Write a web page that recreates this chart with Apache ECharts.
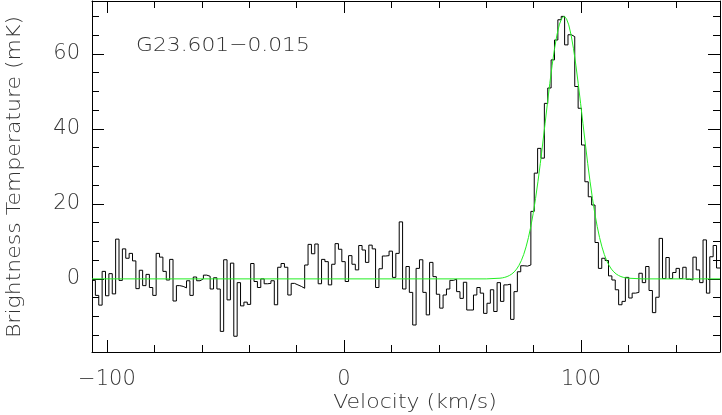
<!DOCTYPE html>
<html><head><meta charset="utf-8">
<script src="https://cdn.jsdelivr.net/npm/echarts@6/dist/echarts.min.js"></script>
<style>html,body{margin:0;padding:0;background:#fff}#c{width:722px;height:415px}</style>
</head><body><div id="c"></div>
<script>
// ---- data ----
const velocityStart = -106.3;   // left edge of first channel (km/s)
const channelWidth = 1.424;     // km/s
const xRange = [-106.3, 158.6];
const yRange = [-19.5, 74.1];
const brightness = [
  -0.4, -4.4, -7.0, 2.0, -4.5, 1.4, -4.0, 10.6, -0.4, 8.0, 5.5, 6.8, 4.8, -2.6, 2.3, -1.8, 1.2, -2.3, -4.4, 6.8,
  5.8, 2.0, -0.3, 5.2, -5.9, -1.8, -2.0, -2.4, -0.5, -4.4, 0.5, -0.5, 0.0, 1.0, 0.7, -2.7, 0.3,
  -2.7, -14.0, 5.1, -5.6, 4.2, -15.3, -1.0, -7.2, -6.2, -6.8, 4.1, -0.7, -2.3, 0.0, -1.3, -1.2, -0.5, -6.9, 3.1,
  4.1, 3.1, -4.3, -1.2, -1.6, -2.0, -2.5, 3.7, 9.2, 6.7, 9.3, -1.3, 5.2, 4.6, -1.6, 3.9, 9.4, 7.9, 4.6,
  -0.7, 6.2, 3.9, 2.4, 8.9, 7.7, 4.4, 9.0, 8.0, -2.3, 2.7, 6.1, 6.2, 7.4, 0.4, 6.8, 15.2, -2.7, 3.3, -3.6,
  -12.3, 2.8, 5.1, -3.6, -9.6, 4.4, 0.6, -4.1, -7.8, -4.3, -2.7, -0.4, -0.1, -3.4, -5.2, -0.9, -8.3,
  -8.3, -4.3, -2.3, -3.8, -9.2, -6.5, -2.9, -8.7, -1.0, -6.0, -1.6, -1.4, -10.8, -3.4, 1.9, 3.5, 3.4, 3.7,
  18.0, 28.2, 34.8, 32.2, 46.8, 50.9, 58.4, 63.7, 69.1, 70.0, 62.4, 65.1, 64.6, 51.3, 45.5, 35.7, 25.9, 21.9, 19.7,
  9.7, 2.8, 5.5, 4.9, 0.8, -0.3, -2.9, -6.9, -6.0, 0.4, -5.1, -3.8, -3.6, 1.5, -1.0, 3.3, -3.1, -9.0, -4.9, 10.8,
  0.1, 5.7, 0.1, 1.7, 2.8, 0.1, 3.1, -0.1, -0.3, 5.8, 2.4, -1.0, 10.4, -3.8, 5.9, 8.9, 2.9
];
const fitVelocity = [
  -106.3, 60, 65.8, 66.8, 67.8, 68.8, 69.8, 70.8, 71.8, 72.8, 73.8, 74.8, 75.8, 76.8, 77.8, 78.8, 79.8, 80.8,
  81.8, 82.8, 83.8, 84.8, 85.8, 86.8, 87.8, 88.8, 89.8, 90.8, 91.8, 92.8, 93.8, 94.8, 95.8, 96.8, 97.8, 98.8,
  99.8, 100.8, 101.8, 102.8, 103.8, 104.8, 105.8, 106.8, 107.8, 108.8, 109.8, 110.8, 111.8, 112.8, 113.8,
  114.8, 115.8, 116.8, 117.8, 118.8, 119.8, 126, 158.6
];
const fitBrightness = [
  0, 0, 0.18, 0.27, 0.41, 0.62, 0.91, 1.31, 1.87, 2.61, 3.60, 4.88, 6.51, 8.54, 11.02, 13.98, 17.45, 21.44,
  25.90, 30.77, 35.97, 41.37, 46.80, 52.07, 57.00, 61.38, 65.01, 67.74, 69.43, 70.00, 69.43, 67.74, 65.01, 61.38,
  57.00, 52.07, 46.80, 41.37, 35.97, 30.77, 25.90, 21.44, 17.45, 13.98, 11.02, 8.54, 6.51, 4.88, 3.60, 2.61,
  1.87, 1.31, 0.91, 0.62, 0.41, 0.27, 0.18, 0, 0
];
const sourceName = 'G23.601\u22120.015';
const xTitle = 'Velocity (km/s)';
const yTitle = 'Brightness Temperature (mK)';

// ---- build ----
const stepData = brightness.map((t, i) => [velocityStart + i * channelWidth, t]);
stepData.push([xRange[1], brightness[brightness.length - 1]]);
const fitData = fitVelocity.map((v, i) => [v, fitBrightness[i]]);

const FONT = 'DejaVu Sans';
const TXT = '#333';
const TFONT = '200 20px "DejaVu Sans"';
const minus = s => String(s).replace('-', '\u2212');
const line = { show: true, onZero: false, lineStyle: { color: '#000', width: 1 } };
const tick = (len) => ({ show: true, inside: true, length: len, lineStyle: { color: '#000', width: 1 } });
const minor = (n, len) => ({ show: true, splitNumber: n, length: len, lineStyle: { color: '#000', width: 1 } });

const chart = echarts.init(document.getElementById('c'), null, { renderer: 'canvas' });
chart.setOption({
  animation: false,
  backgroundColor: '#fff',
  grid: { left: 92, right: 2, top: 1, bottom: 63, containLabel: false },
  xAxis: [
    { type: 'value', position: 'bottom', min: xRange[0], max: xRange[1], splitNumber: 3,
      axisLine: line, axisTick: tick(12), minorTick: minor(5, 7), splitLine: { show: false },
      axisLabel: { show: true, margin: 17, fontFamily: FONT, fontSize: 21, color: TXT, fontWeight: 200,
        showMinLabel: false, showMaxLabel: false,
        formatter: v => (Math.abs(v % 100) < 1e-6 ? minus(v) : '') } },
    { type: 'value', position: 'top', min: xRange[0], max: xRange[1], splitNumber: 3,
      axisLine: line, axisTick: tick(12), minorTick: minor(5, 7), splitLine: { show: false },
      axisLabel: { show: false } }
  ],
  yAxis: [
    { type: 'value', position: 'left', min: yRange[0], max: yRange[1], splitNumber: 5,
      axisLine: line, axisTick: tick(12), minorTick: minor(4, 7), splitLine: { show: false },
      axisLabel: { show: true, margin: 12, fontFamily: FONT, fontSize: 21, color: TXT, fontWeight: 200,
        showMinLabel: false, showMaxLabel: false,
        formatter: v => (Math.abs(v % 20) < 1e-6 ? minus(v) : '') } },
    { type: 'value', position: 'right', min: yRange[0], max: yRange[1], splitNumber: 5,
      axisLine: line, axisTick: tick(12), minorTick: minor(4, 7), splitLine: { show: false },
      axisLabel: { show: false } }
  ],
  series: [
    { type: 'line', step: 'end', data: stepData, xAxisIndex: 0, yAxisIndex: 0, showSymbol: false,
      lineStyle: { color: '#000', width: 1 }, clip: true, z: 2 },
    { type: 'line', data: fitData, xAxisIndex: 0, yAxisIndex: 0, showSymbol: false,
      lineStyle: { color: '#22ee22', width: 1 }, clip: true, z: 3 }
  ],
  graphic: [
    { type: 'text', x: 136, y: 46, scaleX: 1.09, style: { text: sourceName, font: TFONT, fill: TXT,
      align: 'left', verticalAlign: 'middle', textAlign: 'left', textVerticalAlign: 'middle' } },
    { type: 'text', x: 415, y: 403, scaleX: 1.1, style: { text: xTitle, font: TFONT, fill: TXT,
      align: 'center', verticalAlign: 'middle', textAlign: 'center', textVerticalAlign: 'middle' } },
    { type: 'text', x: 15, y: 177, rotation: Math.PI / 2, scaleX: 1.1, style: { text: yTitle, font: TFONT, fill: TXT,
      align: 'center', verticalAlign: 'middle', textAlign: 'center', textVerticalAlign: 'middle' } }
  ]
});
</script></body></html>
